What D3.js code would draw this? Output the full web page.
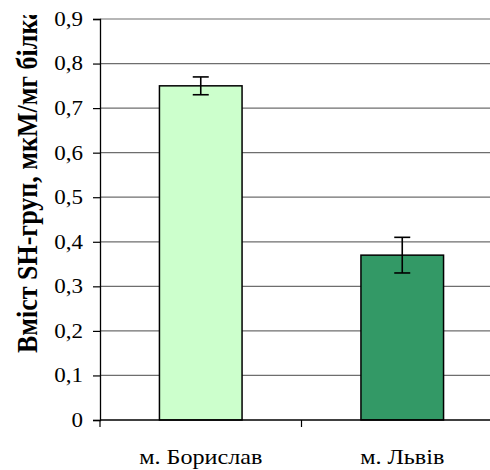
<!DOCTYPE html>
<html>
  <head>
    <meta charset="utf-8">
    <script src="https://d3js.org/d3.v7.min.js"></script>
    <style>
      body { margin: 0; background: white; }
    </style>
  </head>
  <body>
    <script>
      // data
      const cities = ['м. Борислав', 'м. Львів'];
      const values = [0.75, 0.37];
      const errors = [0.02, 0.04];
      const colors = ['#ccffcc', '#339966'];
      const yTicks = [0, 0.1, 0.2, 0.3, 0.4, 0.5, 0.6, 0.7, 0.8, 0.9];

      const w = 490;
      const h = 470;
      const plotLeft = 100, plotTop = 19, plotBottom = 420, plotRight = 503;
      const serif = 'Times New Roman, Liberation Serif, DejaVu Serif, serif';
      const stretch = 1.15; // the original picture is a bit wider than tall

      const svg = d3.select('body').append('svg')
                    .attr('width', w)
                    .attr('height', h);

      const xScale = d3.scaleBand()
                       .domain(cities)
                       .range([plotLeft, plotRight])
                       .paddingInner(0.59)
                       .paddingOuter(0.295);

      const yScale = d3.scaleLinear()
                       .domain([0, 0.9])
                       .range([plotBottom, plotTop]);

      // gridlines
      svg.append('g')
         .selectAll('line')
         .data(yTicks.filter(d => d > 0))
         .enter()
         .append('line')
         .attr('x1', plotLeft)
         .attr('x2', plotRight)
         .attr('y1', d => yScale(d))
         .attr('y2', d => yScale(d))
         .attr('stroke', '#6e6e6e')
         .attr('stroke-width', 1.2);

      // bars
      svg.selectAll('rect.bar')
         .data(values)
         .enter()
         .append('rect')
         .attr('class', 'bar')
         .attr('x', (d, i) => xScale(cities[i]))
         .attr('y', d => yScale(d))
         .attr('width', xScale.bandwidth())
         .attr('height', d => plotBottom - yScale(d))
         .attr('fill', (d, i) => colors[i])
         .attr('stroke', 'black')
         .attr('stroke-width', 1.5);

      // error bars
      const eb = svg.append('g')
                    .selectAll('g')
                    .data(values)
                    .enter()
                    .append('g')
                    .attr('stroke', 'black')
                    .attr('stroke-width', 1.6);
      const cx = (i) => xScale(cities[i]) + xScale.bandwidth() / 2;
      eb.append('line')
        .attr('x1', (d, i) => cx(i))
        .attr('x2', (d, i) => cx(i))
        .attr('y1', (d, i) => yScale(d + errors[i]))
        .attr('y2', (d, i) => yScale(d - errors[i]));
      eb.append('line')
        .attr('x1', (d, i) => cx(i) - 8)
        .attr('x2', (d, i) => cx(i) + 8)
        .attr('y1', (d, i) => yScale(d + errors[i]))
        .attr('y2', (d, i) => yScale(d + errors[i]));
      eb.append('line')
        .attr('x1', (d, i) => cx(i) - 8)
        .attr('x2', (d, i) => cx(i) + 8)
        .attr('y1', (d, i) => yScale(d - errors[i]))
        .attr('y2', (d, i) => yScale(d - errors[i]));

      // y axis
      const yAxis = d3.axisLeft(yScale)
                      .tickValues(yTicks)
                      .tickSize(7)
                      .tickPadding(10)
                      .tickFormat(d => d === 0 ? '0' : d3.format('.1f')(d).replace('.', ','));
      const gy = svg.append('g')
                    .attr('transform', `translate(${plotLeft}, 0)`)
                    .call(yAxis)
                    .attr('font-family', serif)
                    .attr('font-size', 20);
      gy.select('.domain').attr('stroke', 'black').attr('stroke-width', 1.3);
      gy.selectAll('.tick line').attr('stroke', 'black').attr('stroke-width', 1.2);
      gy.selectAll('.tick text')
        .attr('fill', 'black')
        .attr('x', 0)
        .attr('transform', `translate(-17, 0) scale(${stretch}, 1)`);

      // x axis: ticks at category boundaries
      const boundaries = [plotLeft, plotLeft + xScale.step(), plotLeft + 2 * xScale.step()];
      svg.append('line')
         .attr('x1', plotLeft).attr('x2', plotRight)
         .attr('y1', plotBottom).attr('y2', plotBottom)
         .attr('stroke', 'black').attr('stroke-width', 1.3);
      svg.append('g')
         .selectAll('line')
         .data(boundaries)
         .enter()
         .append('line')
         .attr('x1', d => d).attr('x2', d => d)
         .attr('y1', plotBottom).attr('y2', plotBottom + 7)
         .attr('stroke', 'black').attr('stroke-width', 1.2);

      svg.append('g')
         .selectAll('text')
         .data(cities)
         .enter()
         .append('text')
         .attr('transform', d => `translate(${xScale(d) + xScale.bandwidth() / 2}, 464) scale(${stretch}, 1)`)
         .attr('text-anchor', 'middle')
         .attr('font-family', serif)
         .attr('font-size', 21)
         .text(d => d);

      // y label, clipped at the top like the original
      svg.append('clipPath')
         .attr('id', 'ylab-clip')
         .append('rect')
         .attr('x', 0).attr('y', 15)
         .attr('width', 60).attr('height', 440);

      svg.append('g')
         .attr('clip-path', 'url(#ylab-clip)')
         .append('text')
         .attr('transform', `translate(37, 353) scale(${stretch}, 1) rotate(-90)`)
         .attr('text-anchor', 'start')
         .attr('font-family', serif)
         .attr('font-size', 26)
         .attr('font-weight', 'bold')
         .text('Вміст SH-груп, мкМ/мг білка');
    </script>
  </body>
</html>
